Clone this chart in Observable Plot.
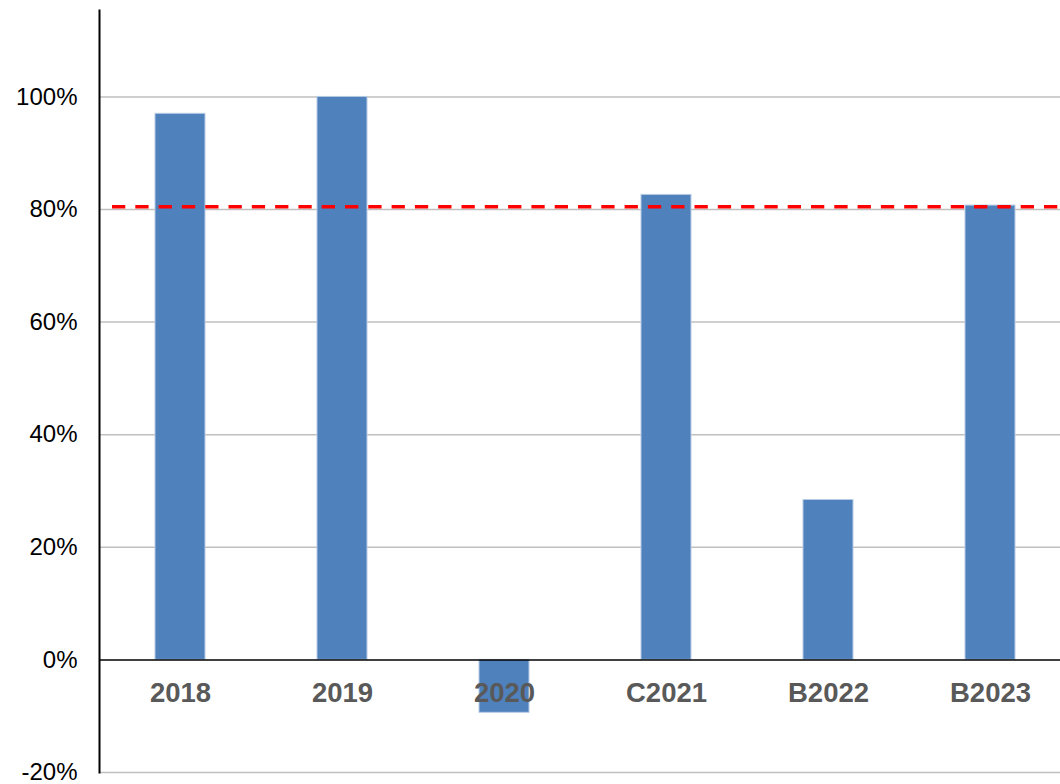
<!DOCTYPE html>
<html>
<head>
<meta charset="utf-8">
<script src="https://cdn.jsdelivr.net/npm/d3@7"></script>
<script src="https://cdn.jsdelivr.net/npm/@observablehq/plot@0.6"></script>
<style>
  html, body { margin: 0; padding: 0; background: #fff; }
  #chart svg { display: block; }
</style>
</head>
<body>
<div id="chart"></div>
<script>
const categories = ["2018", "2019", "2020", "C2021", "B2022", "B2023"];
const values = [97.0, 100.0, -9.4, 82.6, 28.4, 80.7];
const targetValue = 80.5;
const yTicks = [-20, 0, 20, 40, 60, 80, 100];

const data = categories.map((c, i) => ({ category: c, value: values[i] }));

const chart = Plot.plot({
  width: 1060,
  height: 784,
  marginLeft: 99,
  marginRight: 0,
  marginTop: 10,
  marginBottom: 12,
  style: { fontFamily: "Liberation Sans, Arial, sans-serif", background: "#fff" },
  x: { domain: categories, range: [98, 1073], paddingInner: 0.69, paddingOuter: 0.345, axis: null },
  y: { domain: [-20, 115.35], axis: null },
  marks: [
    Plot.gridY(yTicks.filter(d => d !== 0), { stroke: "#bfbfbf", strokeOpacity: 1, strokeWidth: 1.5 }),
    Plot.barY(data, { x: "category", y: "value", fill: "#4F81BD", stroke: "#b8cce4", strokeWidth: 1 }),
    Plot.ruleY([0], { stroke: "#000", strokeWidth: 1.5 }),
    Plot.frame({ anchor: "left", stroke: "#000", strokeWidth: 2 }),
    Plot.ruleY([targetValue], { stroke: "#ff0000", strokeWidth: 3.5, strokeDasharray: "13.3,10", insetLeft: 13 }),
    Plot.axisY(yTicks, { label: null, tickSize: 0, tickPadding: 22, fontSize: 24, fill: "#000", tickFormat: d => d + "%" }),
    Plot.text(categories, { x: d => d, y: d => 0, dy: 33, fontSize: 27.5, fontWeight: "bold", fill: "#595959" })
  ]
});
document.getElementById("chart").appendChild(chart);
</script>
</body>
</html>
